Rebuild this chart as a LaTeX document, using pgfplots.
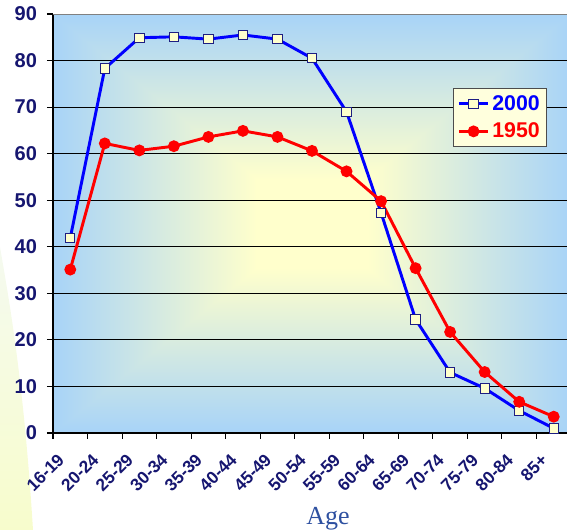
\documentclass[border=0pt]{standalone}
\usepackage{fontspec}
\setmainfont{Liberation Sans}
\newfontfamily\seriffont{Liberation Serif}
\usepackage{pgfplots}
\pgfplotsset{compat=1.18}

\definecolor{ticknavy}{RGB}{22,22,112}
\definecolor{agecol}{RGB}{46,80,160}
\definecolor{markfill}{RGB}{255,255,204}
\definecolor{markedge}{RGB}{30,30,130}
\definecolor{legfill}{RGB}{255,255,221}
\definecolor{pureblue}{RGB}{0,0,255}
\definecolor{purered}{RGB}{255,0,0}

% rectangular "from centre" gradient: pale yellow in the middle, light blue at the edges
% (the path box spans about +-35bp of the shading square)
\pgfdeclarefunctionalshading{rectgrad}{\pgfpoint{-50bp}{-50bp}}{\pgfpoint{50bp}{50bp}}{}{
  abs exch abs 2 copy lt {exch} if pop 35.4 div
  0.15 sub 0.65 div
  dup 0 lt {pop 0} if
  dup 1 gt {pop 1} if
  dup 0.4 mul 1 exch sub
  exch dup 0.2 mul 1 exch sub
  exch 0.2 mul 0.8 add
}

\pgfplotstableread{
x  y2000 y1950
0  41.9  35.1
1  78.3  62.2
2  84.9  60.7
3  85.1  61.6
4  84.6  63.6
5  85.5  64.9
6  84.6  63.6
7  80.5  60.6
8  69.0  56.2
9  47.3  49.8
10 24.4  35.4
11 13.0  21.7
12  9.6  13.1
13  4.8   6.7
14  1.0   3.5
}\rates

\begin{document}
\begin{tikzpicture}
% pale slide decoration at the lower left
\shade[top color={rgb,1:red,0.96;green,0.98;blue,0.94}, bottom color={rgb,1:red,0.97;green,0.99;blue,0.80}]
  (-39.75pt,139.5pt) .. controls (-33pt,100pt) and (-22pt,40pt) .. (-15pt,-72.75pt)
  -- (-39.75pt,-72.75pt) -- cycle;
\begin{axis}[
  scale only axis,
  width=388.5pt, height=314.25pt,
  xmin=-0.5, xmax=14.5, ymin=0, ymax=90,
  axis x line=bottom, axis y line=left,
  axis line style={-, black, line width=0.9pt},
  axis background/.style={shade, shading=rectgrad},
  xtick={-0.5,0.5,...,14.5},
  x tick label as interval,
  xticklabels={16-19,20-24,25-29,30-34,35-39,40-44,45-49,50-54,55-59,60-64,65-69,70-74,75-79,80-84,85+},
  ytick={0,10,...,90},
  ymajorgrids,
  grid style={black, line width=0.6pt},
  tick align=outside,
  major tick length=4.5pt,
  tick style={black, line width=0.8pt},
  /pgf/number format/assume math mode=true,
  yticklabel style={font=\fontsize{15}{18}\selectfont\bfseries, color=ticknavy, xshift=-4pt},
  xticklabel style={font=\fontsize{13}{15}\selectfont\bfseries, color=ticknavy,
    xshift=-4.5pt, yshift=-11pt, rotate=45, anchor=east},
  xlabel={Age},
  xlabel style={font=\seriffont\fontsize{19.5}{22}\selectfont, color=agecol,
    at={(axis description cs:0.531,0)}, anchor=base, yshift=-69pt},
  legend style={at={(axis description cs:0.772,0.823)}, anchor=north west,
    fill=legfill, draw=gray!60!black, line width=0.8pt, row sep=4pt,
    inner ysep=3pt,
    font=\fontsize{16}{18}\selectfont\bfseries, legend cell align=left},
  legend image code/.code={\draw[mark repeat=2, mark phase=2, #1]
    plot coordinates {(0pt,0pt) (11pt,0pt) (22pt,0pt)};},
]
\addplot[pureblue, line width=2.2pt, mark=square*,
  mark options={fill=markfill, draw=markedge, line width=0.7pt}, mark size=3.5pt]
  table[x=x, y=y2000] {\rates};
\addlegendentry{\textcolor{pureblue}{2000}}
\addplot[purered, line width=2.2pt, mark=*,
  mark options={fill=purered, draw=purered}, mark size=3.3pt]
  table[x=x, y=y1950] {\rates};
\addlegendentry{\textcolor{purered}{1950}}
\draw[gray, line width=1.2pt] (axis cs:-0.5,90) -- (axis cs:14.5,90);
\end{axis}
\pgfresetboundingbox
\useasboundingbox (-39.75pt,-72.75pt) rectangle (385.5pt,324.75pt);
\end{tikzpicture}
\end{document}
